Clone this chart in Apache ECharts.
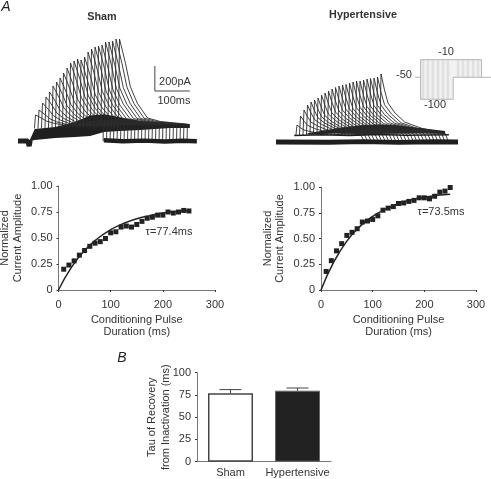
<!DOCTYPE html>
<html>
<head>
<meta charset="utf-8">
<style>
    html, body { margin: 0; padding: 0; background: #fff; }
    #main { width: 491px; height: 479px; }
</style>
</head>
<body>
<div id="main"></div>
<script src="https://cdn.jsdelivr.net/npm/echarts@6/dist/echarts.min.js"></script>
<script>
// panel A, normalized amplitude vs conditioning pulse duration
const pulseMs = [10,20,30,40,50,60,70,80,90,100,110,120,130,140,150,160,170,180,190,200,210,220,230,240,250]
const shamAmp = [.20,.24,.28,.335,.38,.42,.45,.465,.495,.55,.56,.605,.615,.605,.63,.66,.69,.70,.72,.72,.75,.74,.75,.765,.76]
const hyperAmp = [.18,.285,.38,.45,.53,.56,.595,.66,.67,.685,.72,.775,.795,.81,.84,.845,.86,.87,.895,.895,.885,.91,.95,.96,.995]
const fitMs = [0,25,50,75,100,125,150,175,200,225,250]
const shamFit = [0,.22,.38,.495,.58,.64,.685,.715,.74,.755,.765]
const hyperFit = [0,.275,.475,.615,.715,.785,.84,.875,.90,.92,.93]
const ampTicks = ['0','0.25','0.50','0.75','1.00']

// panel B
const groups = ['Sham','Hypertensive']
const tauMean = [76.8,79.8]
const tauUpper = [81,82.8]

// current traces: ms after the peak, then pA at those times, one row per trace
const shamOffsets = [0,8,17,31,51,80,117,194]
const shamTraces = [
    [208,197,183,160,143,128,124,122],[248,231,212,178,153,132,126,123],[304,280,252,203,168,137,129,124],
    [352,322,287,224,180,141,132,125],[392,357,316,242,191,144,134,125],[440,398,350,264,203,149,136,126],
    [472,426,373,278,212,152,138,127],[504,454,396,293,220,155,139,128],[544,489,425,311,230,158,141,128],
    [584,524,454,329,241,162,143,129],[624,558,483,347,251,165,145,130],[640,572,494,354,255,167,146,130],
    [656,586,506,361,259,168,147,131],[648,579,500,358,257,168,146,131],[672,600,517,368,264,170,148,131],
    [712,635,546,386,274,173,150,132],[736,656,564,397,280,175,151,132],[752,670,575,404,284,177,152,133],
    [760,677,581,408,286,178,152,133],[768,684,587,412,288,178,152,133],[792,705,604,422,295,180,154,133],
    [792,704,603,423,294,181,153,134],[800,712,610,426,297,181,154,134],[816,725,621,433,301,183,155,134],
    [816,726,622,434,302,184,156,135]
]
const hyperOffsets = [0,10,20,40,68,117,183]
const hyperTraces = [
    [136,114,96,82,69,60,53],[208,167,134,108,85,69,56],[256,202,159,126,95,75,58],[296,232,180,141,104,80,60],
    [320,250,193,150,109,82,61],[336,262,202,156,113,84,61],[352,273,210,162,116,86,62],[376,291,223,171,122,89,63],
    [392,303,231,177,125,91,64],[408,315,240,182,129,93,64],[424,327,248,188,132,95,65],[436,336,255,193,135,96,65],
    [448,345,261,197,138,98,66],[456,350,265,200,139,99,66],[460,353,267,202,140,99,66],[472,362,274,206,143,101,67],
    [480,368,278,209,145,102,67],[488,374,282,212,146,103,68],[488,373,283,211,147,102,67],[496,380,286,215,148,104,68],
    [504,386,291,218,150,104,68],[508,389,293,219,151,105,68],[512,392,295,221,152,105,69],[520,398,299,224,153,106,69],
    [544,416,312,232,159,109,70]
]

// dense noisy part of the recordings (ms, lower pA, upper pA)
const shamBandMs = [-6,8,66,123,166,206,251,309,394,451]
const shamBandLow = [0,8,24,32,40,72,80,88,104,104]
const shamBandHigh = [10,96,112,152,205,215,190,160,144,136]
const hyperBandMs = [40,133,204,290,361,433]
const hyperBandLow = [60,70,64,72,72,64]
const hyperBandHigh = [70,115,136,136,112,88]
const shamLead = [[-40,0],[-12,0],[-8,-40],[-5,8]]
const shamAfter = [[205,6],[260,-2],[320,3],[380,-4],[430,2],[471,-2]]
const hyperBase = [[-50,0],[100,-2],[200,3],[300,-3],[400,2],[470,0]]
const hyperUpper = [[2,52],[80,58],[160,52],[240,60],[320,54],[444,58]]

// voltage protocol inset
const protocolLine = [[16,-50],[16,-100],[109,-100],[109,-50],[217,-50]]
const protocolTop = [[16,-50],[16,-10],[190,-10],[190,-50]]
const protocolTick = [[0,-50],[16,-50]]
const stripeLow = [23,37,51,66,80,94]
const stripeHigh = [123,137,151,166,180]

const font = 'Liberation Sans'
const textColor = '#333'
const axisColor = '#777'

let traceSeries = (traces, offsets, gridIdx, tail) => traces.map((row, i) => {
    let t = pulseMs[i]
    let pts = [[t - 3, tail]]
    row.forEach((v, k) => pts.push([t + offsets[k], v]))
    pts.push([t + 193, 0])
    return {
        type: 'line', xAxisIndex: gridIdx, yAxisIndex: gridIdx, data: pts, showSymbol: false, silent: true,
        lineStyle: { color: '#2b2b2b', width: 0.9 }
    }
})
let thick = (data, gridIdx, width) => ({
    type: 'line', xAxisIndex: gridIdx, yAxisIndex: gridIdx, data, showSymbol: false, silent: true,
    lineStyle: { color: '#1f1f1f', width }
})
let band = (ms, low, high, gridIdx) => ({
    type: 'custom', xAxisIndex: gridIdx, yAxisIndex: gridIdx, silent: true, data: [[ms[0], low[0]]],
    renderItem: (params, api) => {
        let points = ms.map((t, i) => api.coord([t, low[i]]))
        for (let i = ms.length - 1; i >= 0; i--) {
            points.push(api.coord([ms[i], high[i]]))
        }
        return { type: 'polygon', shape: { points }, style: { fill: '#1f1f1f' } }
    }
})
let stripes = (xs, bottom) => {
    let out = []
    xs.forEach(x => out.push([x, -10], [x, bottom], null))
    return out
}
let protocol = (data) => ({
    type: 'line', xAxisIndex: 2, yAxisIndex: 2, data, showSymbol: false, silent: true,
    lineStyle: { color: '#b4b4b4', width: 1 }
})
let hidden = (min, max, gridIndex) => ({ type: 'value', min, max, gridIndex, show: false })
let ampX = (gridIndex) => ({
    type: 'value', gridIndex, min: 0, max: 300, interval: 100,
    name: 'Conditioning Pulse\nDuration (ms)', nameLocation: 'middle', nameGap: 24, nameMoveOverlap: false,
    nameTextStyle: { fontFamily: font, fontSize: 11, color: textColor, lineHeight: 12 },
    splitLine: { show: false },
    axisLine: { lineStyle: { color: axisColor } },
    axisTick: { length: 2, inside: false, lineStyle: { color: '#333' } },
    axisLabel: { fontFamily: font, fontSize: 11, color: textColor, margin: 9 }
})
let ampY = (gridIndex, gap, lineHeight) => ({
    type: 'value', gridIndex, min: 0, max: 1, interval: 0.25,
    name: 'Normalized\nCurrent Amplitude', nameLocation: 'middle', nameGap: gap, nameMoveOverlap: false,
    nameTextStyle: { fontFamily: font, fontSize: 11, color: textColor, lineHeight },
    splitLine: { show: false },
    axisLine: { show: true, lineStyle: { color: axisColor } },
    axisTick: { show: true, length: 2, lineStyle: { color: '#333' } },
    axisLabel: {
        fontFamily: font, fontSize: 11, color: textColor, margin: 6,
        formatter: (v) => ampTicks[Math.round(v * 4)]
    }
})
let ampSeries = (vals, fit, idx) => [
    {
        type: 'line', xAxisIndex: idx, yAxisIndex: idx, smooth: true, showSymbol: false,
        data: fitMs.map((t, i) => [t, fit[i]]), lineStyle: { color: '#222', width: 1.5 }
    },
    {
        type: 'scatter', xAxisIndex: idx, yAxisIndex: idx, symbol: 'rect', symbolSize: 5,
        data: pulseMs.map((t, i) => [t, vals[i]]), itemStyle: { color: '#222', opacity: 1 }
    }
]
let label = (text, x, y, extra) => ({
    type: 'text', x, y,
    style: Object.assign({ text, fontFamily: font, fontSize: 11, fill: textColor, align: 'center', verticalAlign: 'middle' }, extra || {})
})

let myChart = echarts.init(document.getElementById('main'), null, { renderer: 'canvas' })
myChart.setOption({
    animation: false,
    backgroundColor: '#fff',
    grid: [
        { left: 18, top: 31, width: 182, height: 125, outerBoundsMode: 'none' },
        { left: 276, top: 32, width: 182, height: 125, outerBoundsMode: 'none' },
        { left: 415, top: 50, width: 76, height: 55, outerBoundsMode: 'none' },
        { left: 58.5, top: 186, width: 156.5, height: 104, outerBoundsMode: 'none' },
        { left: 321, top: 187, width: 155, height: 103, outerBoundsMode: 'none' },
        { left: 197, top: 372.7, width: 134, height: 89, outerBoundsMode: 'none' }
    ],
    xAxis: [
        hidden(-40, 480, 0),
        hidden(-50, 470, 1),
        hidden(0, 217, 2),
        ampX(3),
        ampX(4),
        {
            type: 'category', gridIndex: 5, data: groups,
            axisLine: { lineStyle: { color: axisColor } },
            axisTick: { alignWithLabel: true, length: 2, lineStyle: { color: '#333' } },
            axisLabel: { fontFamily: font, fontSize: 11, color: textColor, margin: 6, interval: 0 }
        }
    ],
    yAxis: [
        hidden(-120, 880, 0),
        hidden(-120, 880, 1),
        hidden(-113, 12, 2),
        ampY(3, 34.5, 13),
        ampY(4, 35.5, 12),
        {
            type: 'value', gridIndex: 5, min: 0, max: 100, interval: 25,
            name: 'Tau of Recovery\nfrom Inactivation (ms)', nameLocation: 'middle', nameGap: 24, nameMoveOverlap: false,
            nameTextStyle: { fontFamily: font, fontSize: 11, color: textColor, lineHeight: 14 },
            splitLine: { show: false },
            axisLine: { show: true, lineStyle: { color: axisColor } },
            axisTick: { show: true, length: 2, lineStyle: { color: '#333' } },
            axisLabel: { fontFamily: font, fontSize: 11, color: textColor, margin: 6 }
        }
    ],
    series: [
        band(shamBandMs, shamBandLow, shamBandHigh, 0),
        ...traceSeries(shamTraces, shamOffsets, 0, 100),
        thick(shamLead, 0, 5),
        thick(shamAfter, 0, 4.5),
        // scale bar, 200 pA by 100 ms
        {
            type: 'line', xAxisIndex: 0, yAxisIndex: 0, showSymbol: false, silent: true,
            data: [[351, 600], [351, 400], [451, 400]], lineStyle: { color: '#444', width: 1 }
        },
        band(hyperBandMs, hyperBandLow, hyperBandHigh, 1),
        ...traceSeries(hyperTraces, hyperOffsets, 1, 55),
        thick(hyperUpper, 1, 1.5),
        thick(hyperBase, 1, 5),
        // inset
        {
            type: 'line', xAxisIndex: 2, yAxisIndex: 2, data: stripes(stripeLow, -100), showSymbol: false, silent: true,
            lineStyle: { color: '#e0e0e0', width: 2.5 },
            markArea: {
                silent: true, itemStyle: { color: '#f1f1f1' },
                data: [[{ coord: [16, -10] }, { coord: [109, -100] }], [{ coord: [109, -10] }, { coord: [190, -50] }]]
            }
        },
        {
            type: 'line', xAxisIndex: 2, yAxisIndex: 2, data: stripes(stripeHigh, -50), showSymbol: false, silent: true,
            lineStyle: { color: '#e0e0e0', width: 2.5 }
        },
        protocol(protocolLine),
        protocol(protocolTop),
        protocol(protocolTick),
        ...ampSeries(shamAmp, shamFit, 3),
        ...ampSeries(hyperAmp, hyperFit, 4),
        {
            type: 'bar', xAxisIndex: 5, yAxisIndex: 5, barWidth: 45,
            data: [
                { value: tauMean[0], itemStyle: { color: '#fff', borderColor: '#444', borderWidth: 1.5 } },
                { value: tauMean[1], itemStyle: { color: '#222', borderColor: '#666', borderWidth: 1 } }
            ]
        },
        {
            type: 'custom', xAxisIndex: 5, yAxisIndex: 5, data: groups.map((g, i) => [i, tauMean[i], tauUpper[i]]),
            z: 3,
            renderItem: (params, api) => {
                let base = api.coord([api.value(0), api.value(1)])
                let top = api.coord([api.value(0), api.value(2)])
                let style = { stroke: '#444', lineWidth: 1, fill: null }
                return {
                    type: 'group',
                    children: [
                        { type: 'line', shape: { x1: base[0], y1: base[1], x2: top[0], y2: top[1] }, style },
                        { type: 'line', shape: { x1: top[0] - 11, y1: top[1], x2: top[0] + 11, y2: top[1] }, style }
                    ]
                }
            }
        }
    ],
    graphic: [
        label('A', 6, 7, { fontStyle: 'italic', fontSize: 14, fill: '#222' }),
        label('B', 122, 358, { fontStyle: 'italic', fontSize: 14, fill: '#222' }),
        label('Sham', 102, 17, { fontWeight: 'bold', fontSize: 10.8, fill: '#333' }),
        label('Hypertensive', 363, 15.5, { fontWeight: 'bold', fontSize: 10.8, fill: '#333' }),
        label('200pA', 175, 82),
        label('100ms', 174, 101),
        label('-10', 446, 52),
        label('-50', 404, 75),
        label('-100', 435, 105),
        label('\u03c4=77.4ms', 169, 232),
        label('\u03c4=73.5ms', 441, 212)
    ]
})
window.addEventListener('resize', function () {
    myChart.resize()
})
</script>
</body>
</html>
